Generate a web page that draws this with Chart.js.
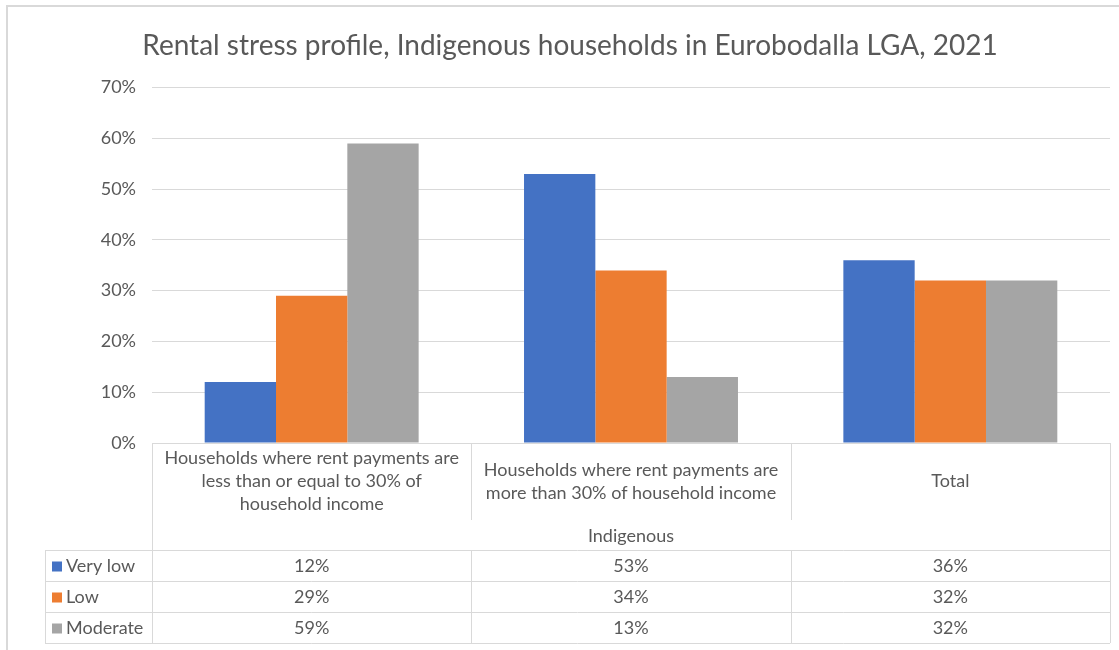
<!DOCTYPE html>
<html>
<head>
<meta charset="utf-8">
<title>Rental stress profile</title>
<script src="https://cdn.jsdelivr.net/npm/chart.js@4.4.0/dist/chart.umd.min.js"></script>
<style>
body { margin: 0; background: #fff; }
canvas { display: block; }
</style>
</head>
<body>
<canvas id="stressChart" width="1119" height="650"></canvas>
<script>
// category labels, one array of lines per column
var categories = [
    ["Households where rent payments are", "less than or equal to 30% of", "household income"],
    ["Households where rent payments are", "more than 30% of household income"],
    ["Total"]
];
var groupLabel = "Indigenous";
var seriesNames = ["Very low", "Low", "Moderate"];
var veryLow = [12, 53, 36];
var low = [29, 34, 32];
var moderate = [59, 13, 32];
var seriesColors = ["#4472C4", "#ED7D31", "#A5A5A5"];

var textColor = "#595959";
var lineColor = "#D9D9D9";
var fontFamily = "Lato, 'Open Sans', sans-serif";

function hline(c, x1, x2, y) {
    c.beginPath();
    c.moveTo(x1, Math.round(y) + 0.5);
    c.lineTo(x2, Math.round(y) + 0.5);
    c.stroke();
}
function vline(c, x, y1, y2) {
    c.beginPath();
    c.moveTo(Math.round(x) + 0.5, y1);
    c.lineTo(Math.round(x) + 0.5, y2);
    c.stroke();
}

// frame round the whole chart
var frame = {
    id: 'frame',
    beforeDraw: function(chart) {
        var c = chart.ctx;
        c.save();
        c.fillStyle = "#fff";
        c.fillRect(0, 0, chart.width, chart.height);
        c.strokeStyle = lineColor;
        c.lineWidth = 2;
        c.beginPath();
        c.moveTo(7, chart.height);
        c.lineTo(7, 6);
        c.lineTo(chart.width, 6);
        c.stroke();
        c.restore();
    }
};

// data table under the plot: category headers, group row, one row per series
var dataTable = {
    id: 'dataTable',
    afterDraw: function(chart) {
        var c = chart.ctx, xs = chart.scales.x, area = chart.chartArea;
        var half = (xs.getPixelForValue(1) - xs.getPixelForValue(0)) / 2;
        var edges = [];
        for (var i = 0; i < categories.length; i++) edges.push(xs.getPixelForValue(i) - half);
        edges.push(xs.getPixelForValue(categories.length - 1) + half);
        var left = edges[0], right = edges[edges.length - 1];

        var top = area.bottom;
        var headBottom = top + 77;
        var groupBottom = top + 107;
        var rowH = 31;
        var legendLeft = 45;
        var rows = [veryLow, low, moderate];
        var tableBottom = groupBottom + rowH * rows.length;

        c.save();
        c.strokeStyle = lineColor;
        c.lineWidth = 1;
        // header separators
        vline(c, left, top, tableBottom);
        vline(c, right, top, tableBottom);
        for (var i = 1; i < edges.length - 1; i++) {
            vline(c, edges[i], top, headBottom);
            vline(c, edges[i], groupBottom, tableBottom);
        }
        vline(c, legendLeft, groupBottom, tableBottom);
        for (var r = 0; r <= rows.length; r++) {
            hline(c, legendLeft, right, groupBottom + r * rowH);
        }

        c.fillStyle = textColor;
        c.font = "18px " + fontFamily;
        c.textAlign = "center";
        c.textBaseline = "middle";
        var lh = 23;
        categories.forEach(function(lines, i) {
            var cx = xs.getPixelForValue(i);
            var y0 = (top + headBottom) / 2 - (lines.length - 1) * lh / 2;
            lines.forEach(function(t, k) { c.fillText(t, cx, y0 + k * lh); });
        });
        c.fillText(groupLabel, (left + right) / 2, (headBottom + groupBottom) / 2 + 1);

        rows.forEach(function(vals, r) {
            var cy = groupBottom + r * rowH + rowH / 2 + 1;
            vals.forEach(function(v, i) {
                c.fillText(v + "%", xs.getPixelForValue(i), cy);
            });
            c.fillStyle = seriesColors[r];
            c.fillRect(legendLeft + 7, cy - 5, 10, 10);
            c.fillStyle = textColor;
            c.textAlign = "left";
            c.fillText(seriesNames[r], legendLeft + 21, cy);
            c.textAlign = "center";
        });
        c.restore();
    }
};

var ctx = document.getElementById('stressChart').getContext('2d');
var chart = new Chart(ctx, {
    type: 'bar',
    plugins: [frame, dataTable],
    data: {
        labels: categories.map(function(l) { return l.join(' '); }),
        datasets: [
            { label: seriesNames[0], data: veryLow, backgroundColor: seriesColors[0] },
            { label: seriesNames[1], data: low, backgroundColor: seriesColors[1] },
            { label: seriesNames[2], data: moderate, backgroundColor: seriesColors[2] }
        ]
    },
    options: {
        responsive: false,
        animation: false,
        datasets: {
            bar: { categoryPercentage: 0.67, barPercentage: 1.0 }
        },
        layout: {
            padding: { top: 0, right: 9, bottom: 207, left: 30 }
        },
        plugins: {
            legend: { display: false },
            tooltip: { enabled: false },
            title: {
                display: true,
                text: 'Rental stress profile, Indigenous households in Eurobodalla LGA, 2021',
                color: textColor,
                font: { family: fontFamily, size: 28, weight: 'normal' },
                padding: { top: 29, bottom: 25 }
            }
        },
        scales: {
            x: { display: false },
            y: {
                min: 0,
                max: 70,
                ticks: {
                    stepSize: 10,
                    color: textColor,
                    padding: 16,
                    font: { family: fontFamily, size: 18 },
                    callback: function(v) { return v + '%'; }
                },
                grid: { color: lineColor, drawTicks: false },
                border: { display: false },
                afterFit: function(scale) { scale.width = 122; }
            }
        }
    }
});
</script>
</body>
</html>
